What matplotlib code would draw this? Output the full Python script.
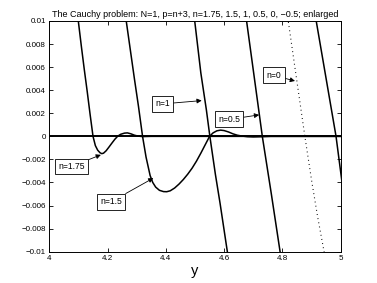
import matplotlib
matplotlib.use("Agg")
import matplotlib.pyplot as plt
from matplotlib.ticker import FixedLocator

plt.rcParams['font.family'] = ['Liberation Sans', 'DejaVu Sans']

# ---- data ----
x_n175 = [4.090, 4.0995, 4.110, 4.120, 4.130, 4.140, 4.150, 4.158, 4.166, 4.174, 4.180,
          4.186, 4.195, 4.205, 4.215, 4.225, 4.235, 4.245, 4.258, 4.268, 4.280, 4.292,
          4.305, 4.320, 4.350, 5.000]
y_n175 = [0.0125, 0.0100, 0.0078, 0.0058, 0.0039, 0.0019, 0.0, -0.0008, -0.0012, -0.00142, -0.00150,
          -0.00146, -0.00125, -0.00092, -0.00058, -0.00025, 0.00002, 0.00018, 0.00028, 0.00030, 0.00022, 0.00010,
          0.00002, -0.00002, 0.0, 0.0]

x_n15 = [4.255, 4.264, 4.278, 4.292, 4.306, 4.320, 4.332, 4.346, 4.355, 4.365, 4.378, 4.392,
         4.403, 4.415, 4.430, 4.445, 4.460, 4.475, 4.490, 4.505, 4.520, 4.535, 4.550, 4.562,
         4.575, 4.588, 4.600, 4.615, 4.630, 4.645, 4.660, 4.680, 4.700, 4.730, 4.760, 5.000]
y_n15 = [0.0118, 0.0100, 0.0075, 0.0050, 0.0026, 0.0, -0.0018, -0.0034, -0.0040, -0.0044, -0.00468, -0.00479,
         -0.00480, -0.00472, -0.00448, -0.00414, -0.00374, -0.00328, -0.00276, -0.00215, -0.00146, -0.00073, 0.0, 0.00030,
         0.00048, 0.00054, 0.00050, 0.00038, 0.00022, 0.00010, 0.00003, -0.00003, -0.00005, -0.00003, 0.0, 0.0]

x_n1 = [4.490, 4.499, 4.520, 4.539, 4.551, 4.570, 4.586, 4.611, 4.618]
y_n1 = [0.012, 0.0100, 0.0055, 0.0023, 0.0, -0.0033, -0.0058, -0.0100, -0.0112]

x_n05 = [4.668, 4.677, 4.704, 4.731, 4.762, 4.792, 4.798]
y_n05 = [0.012, 0.0100, 0.0050, 0.0, -0.0050, -0.0100, -0.011]

x_n0 = [4.814, 4.820, 4.849, 4.877, 4.900, 4.921, 4.943, 4.949]
y_n0 = [0.011, 0.0100, 0.0049, 0.0, -0.0038, -0.0070, -0.0100, -0.011]

x_nm05 = [4.909, 4.916, 4.950, 4.984, 5.000, 5.020]
y_nm05 = [0.011, 0.0100, 0.0050, 0.0, -0.0031, -0.0070]

x_zero = [4.0, 5.0]
y_zero = [0.0, 0.0]

xticks = [4.0, 4.2, 4.4, 4.6, 4.8, 5.0]
xtick_labels = ['4', '4.2', '4.4', '4.6', '4.8', '5']
yticks = [-0.01, -0.008, -0.006, -0.004, -0.002, 0.0, 0.002, 0.004, 0.006, 0.008, 0.01]
ytick_labels = ['\u22120.01', '\u22120.008', '\u22120.006', '\u22120.004', '\u22120.002', '0',
                '0.002', '0.004', '0.006', '0.008', '0.01']

labels = ['n=1.75', 'n=1.5', 'n=1', 'n=0.5', 'n=0']
label_text_pos = [(4.076, -0.00261), (4.212, -0.00567), (4.388, 0.00281), (4.617, 0.00147), (4.771, 0.00528)]
label_arrow_pos = [(4.177, -0.0016), (4.357, -0.00362), (4.523, 0.0031), (4.720, 0.00186), (4.843, 0.0048)]

title = 'The Cauchy problem: N=1, p=n+3, n=1.75, 1.5, 1, 0.5, 0, \u22120.5; enlarged'

# ---- figure ----
fig = plt.figure(figsize=(3.77, 2.83), dpi=100)
ax = fig.add_axes([0.1308, 0.1106, 0.7729, 0.8152])

ax.plot(x_zero, y_zero, color='k', lw=1.4)
for xs, ys in [(x_n175, y_n175), (x_n15, y_n15), (x_n1, y_n1), (x_n05, y_n05), (x_nm05, y_nm05)]:
    ax.plot(xs, ys, color='k', lw=1.1)
ax.plot(x_n0, y_n0, color='k', lw=0.8, ls=(0, (0.8, 3.0)))

ax.set_xlim(4, 5)
ax.set_ylim(-0.01, 0.01)
ax.xaxis.set_major_locator(FixedLocator(xticks))
ax.set_xticklabels(xtick_labels)
ax.yaxis.set_major_locator(FixedLocator(yticks))
ax.set_yticklabels(ytick_labels)
ax.tick_params(direction='in', length=3, width=0.6, labelsize=5.8, top=True, right=True, pad=2.5)
for s in ax.spines.values():
    s.set_linewidth(0.7)

for lab, tp, ap in zip(labels, label_text_pos, label_arrow_pos):
    ax.annotate(lab, xy=ap, xytext=tp, ha='center', va='center', fontsize=6.2,
                bbox=dict(boxstyle='square,pad=0.4', fc='white', ec='black', lw=0.6),
                arrowprops=dict(arrowstyle='-|>', color='k', lw=0.6, mutation_scale=7,
                                shrinkA=0, shrinkB=0))

ax.set_title(title, fontsize=6.5, pad=3)
ax.set_xlabel('y', fontsize=10.5, labelpad=1)

fig.savefig('out.png', dpi=100)
